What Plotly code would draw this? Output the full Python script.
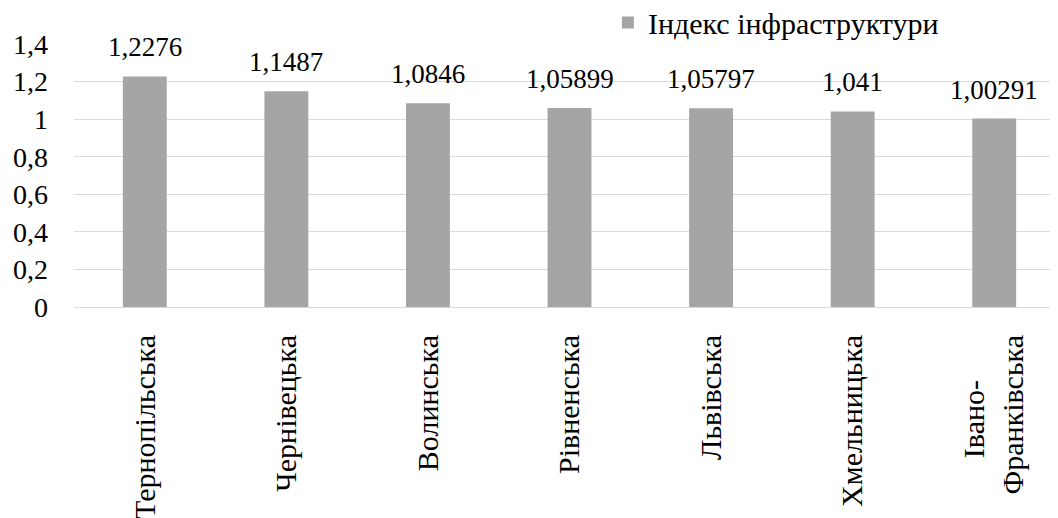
import plotly.graph_objects as go

categories = ["Тернопільська", "Чернівецька", "Волинська", "Рівненська",
              "Львівська", "Хмельницька", "Івано-Франківська"]
tick_labels = ["Тернопільська", "Чернівецька", "Волинська", "Рівненська",
               "Львівська", "Хмельницька",
               "Івано-" + "\u00a0" * 6 + "<br>Франківська"]
values = [1.2276, 1.1487, 1.0846, 1.05899, 1.05797, 1.041, 1.00291]
value_labels = ["1,2276", "1,1487", "1,0846", "1,05899", "1,05797", "1,041", "1,00291"]
series_name = "Індекс інфраструктури"
y_ticks = [0, 0.2, 0.4, 0.6, 0.8, 1.0, 1.2, 1.4]

font_family = "Liberation Serif"

fig = go.Figure()
fig.add_trace(go.Bar(
    x=categories, y=values, name=series_name,
    marker=dict(color="#A5A5A5", line=dict(width=0)),
    showlegend=True,
))

for c, v, t in zip(categories, values, value_labels):
    fig.add_annotation(x=c, y=v, text=t, showarrow=False, xanchor="center",
                       yanchor="bottom", yshift=12,
                       font=dict(family=font_family, size=27, color="#000000"))

fig.update_layout(
    width=1058, height=518,
    margin=dict(l=66, r=1, t=36, b=219, autoexpand=False),
    paper_bgcolor="white", plot_bgcolor="white",
    separators=", ",
    bargap=0.69,
    font=dict(family=font_family, size=28, color="#000000"),
    legend=dict(xref="container", yref="container", x=0.567, y=0.972,
                xanchor="left", yanchor="middle",
                orientation="h", font=dict(family=font_family, size=30),
                bgcolor="rgba(0,0,0,0)", itemwidth=30),
    xaxis=dict(tickangle=-90, showline=True, linecolor="#D9D9D9", linewidth=1,
               ticks="", tickmode="array", tickvals=categories, ticktext=tick_labels,
               tickfont=dict(family=font_family, size=30),
               ticklabelstandoff=15),
    yaxis=dict(range=[0, 1.4], tickvals=y_ticks, showgrid=True,
               gridcolor="#D9D9D9", gridwidth=1, zeroline=False,
               tickfont=dict(family=font_family, size=28), ticks="",
               ticklabelstandoff=25),
)

fig.write_html("out.html")
